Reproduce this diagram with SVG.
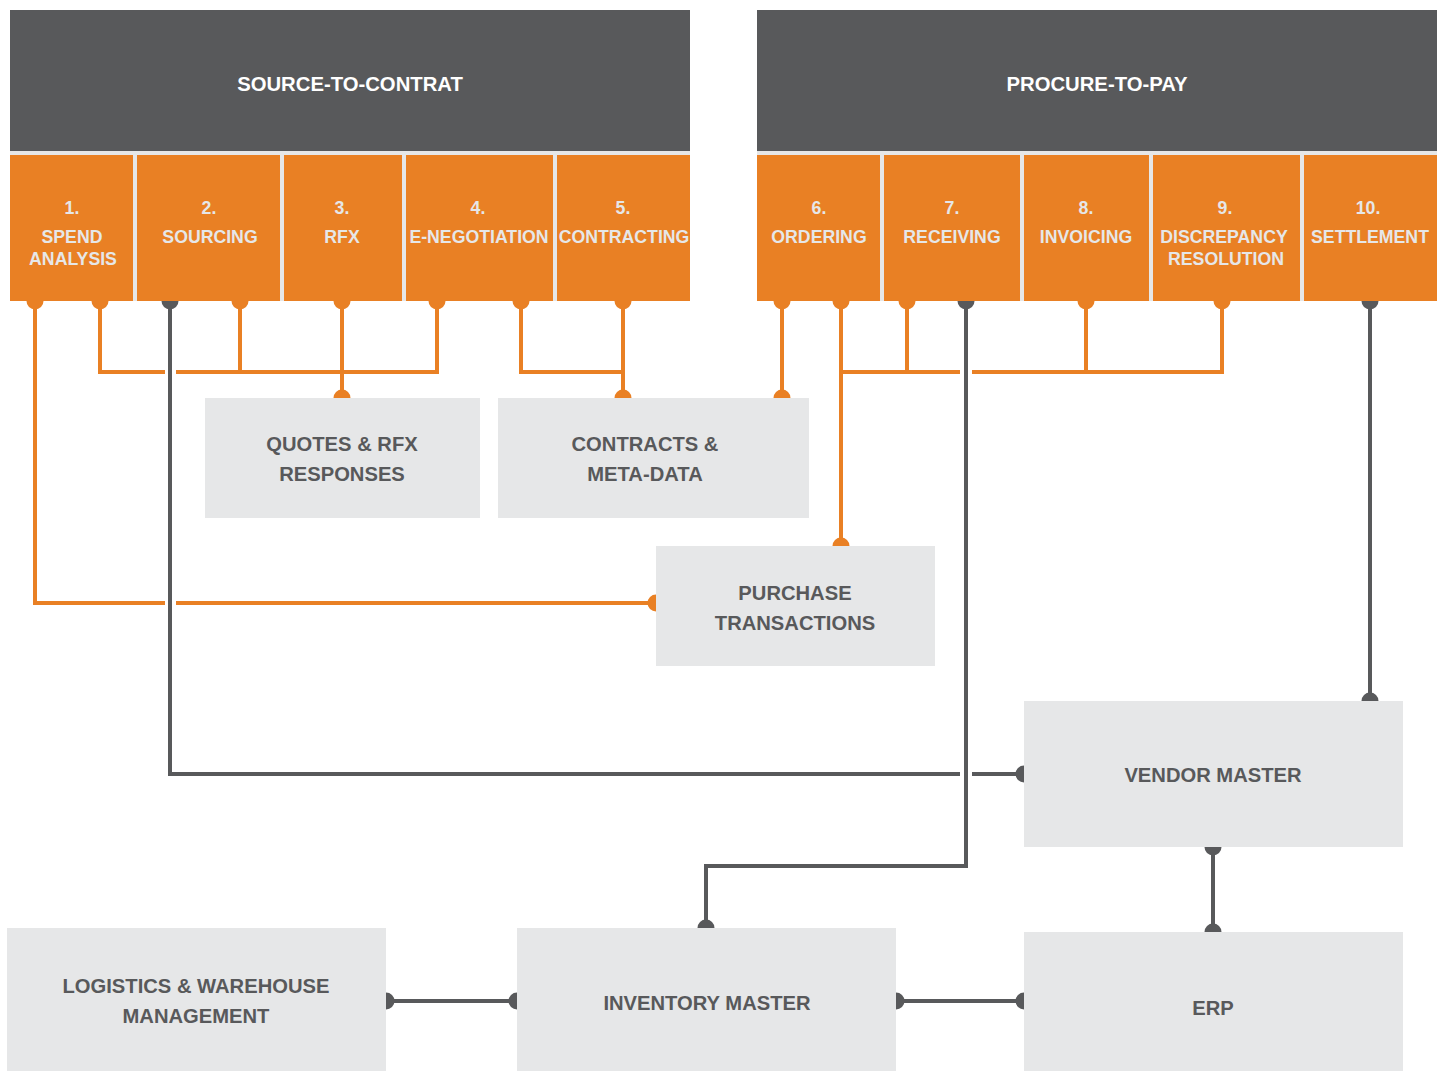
<svg xmlns="http://www.w3.org/2000/svg" width="1444" height="1071" viewBox="0 0 1444 1071">
<style>
.hdr{fill:#58595b}
.strip{fill:#e6e7e8}
.step{fill:#e98024}
.box{fill:#e6e7e8}
.ht{font-family:"Liberation Sans",Arial,sans-serif;font-weight:bold;font-size:20.3px;fill:#ffffff;text-anchor:middle}
.st{font-family:"Liberation Sans",Arial,sans-serif;font-weight:bold;font-size:17.7px;fill:#e6e7e8;text-anchor:middle}
.bt{font-family:"Liberation Sans",Arial,sans-serif;font-weight:bold;font-size:20.2px;fill:#58595b;text-anchor:middle}
.o{fill:none;stroke:#e98024;stroke-width:4}
.g{fill:none;stroke:#58595b;stroke-width:4}
.od{fill:#e98024}
.gd{fill:#58595b}
</style>
<rect width="1444" height="1071" fill="#ffffff"/>
<g id="connectors">
  <path class="o" d="M35,300 V603 H165 M176,603 H655"/>
  <path class="o" d="M100,300 V372 H165 M176,372 H437 V300 M240,300 V372 M342,300 V398"/>
  <path class="o" d="M521,300 V372 H623 M623,300 V398"/>
  <path class="o" d="M782,300 V398"/>
  <path class="o" d="M841,300 V546 M841,372 H960 M972,372 H1222 V300 M907,300 V372 M1086,300 V372"/>
  <g class="od">
    <circle cx="35" cy="301" r="8.5"/><circle cx="100" cy="301" r="8.5"/><circle cx="240" cy="301" r="8.5"/>
    <circle cx="342" cy="301" r="8.5"/><circle cx="437" cy="301" r="8.5"/><circle cx="521" cy="301" r="8.5"/>
    <circle cx="623" cy="301" r="8.5"/><circle cx="782" cy="301" r="8.5"/><circle cx="841" cy="301" r="8.5"/>
    <circle cx="907" cy="301" r="8.5"/><circle cx="1086" cy="301" r="8.5"/><circle cx="1222" cy="301" r="8.5"/>
    <circle cx="342" cy="398" r="8.5"/><circle cx="623" cy="398" r="8.5"/><circle cx="782" cy="398" r="8.5"/>
    <circle cx="841" cy="546" r="8.5"/><circle cx="656" cy="603" r="8.5"/>
  </g>
  <path class="g" d="M170,300 V774 H960 M972,774 H1024"/>
  <path class="g" d="M966,300 V866 H706 V928"/>
  <path class="g" d="M1370,300 V701"/>
  <path class="g" d="M1213,847 V932"/>
  <path class="g" d="M386,1001 H517 M896,1001 H1024"/>
  <g class="gd">
    <circle cx="170" cy="301" r="8.5"/><circle cx="966" cy="301" r="8.5"/><circle cx="1370" cy="301" r="8.5"/>
    <circle cx="1024" cy="774" r="8.5"/><circle cx="706" cy="928" r="8.5"/><circle cx="1370" cy="701" r="8.5"/>
    <circle cx="1213" cy="847" r="8.5"/><circle cx="1213" cy="932" r="8.5"/>
    <circle cx="386" cy="1001" r="8.5"/><circle cx="517" cy="1001" r="8.5"/>
    <circle cx="896" cy="1001" r="8.5"/><circle cx="1024" cy="1001" r="8.5"/>
  </g>
</g>
<g id="source-to-contract">
  <rect class="hdr" x="10" y="10" width="680" height="141"/>
  <rect class="strip" x="10" y="151" width="680" height="150"/>
  <text class="ht" x="350" y="91">SOURCE-TO-CONTRAT</text>
</g>
<g id="procure-to-pay">
  <rect class="hdr" x="757" y="10" width="680" height="141"/>
  <rect class="strip" x="757" y="151" width="680" height="150"/>
  <text class="ht" x="1097" y="91">PROCURE-TO-PAY</text>
</g>
<g id="step1"><rect class="step" x="10" y="155" width="123" height="146"/><text class="st" x="72" y="214">1.</text><text class="st" x="72" y="243">SPEND</text><text class="st" x="73" y="265">ANALYSIS</text></g>
<g id="step2"><rect class="step" x="137" y="155" width="143" height="146"/><text class="st" x="209" y="214">2.</text><text class="st" x="210" y="243">SOURCING</text></g>
<g id="step3"><rect class="step" x="284" y="155" width="118" height="146"/><text class="st" x="342" y="214">3.</text><text class="st" x="342" y="243">RFX</text></g>
<g id="step4"><rect class="step" x="406" y="155" width="147" height="146"/><text class="st" x="478" y="214">4.</text><text class="st" x="479" y="243">E-NEGOTIATION</text></g>
<g id="step5"><rect class="step" x="557" y="155" width="133" height="146"/><text class="st" x="623" y="214">5.</text><text class="st" x="624" y="243">CONTRACTING</text></g>
<g id="step6"><rect class="step" x="757" y="155" width="123" height="146"/><text class="st" x="819" y="214">6.</text><text class="st" x="819" y="243">ORDERING</text></g>
<g id="step7"><rect class="step" x="884" y="155" width="136" height="146"/><text class="st" x="952" y="214">7.</text><text class="st" x="952" y="243">RECEIVING</text></g>
<g id="step8"><rect class="step" x="1024" y="155" width="125" height="146"/><text class="st" x="1086" y="214">8.</text><text class="st" x="1086" y="243">INVOICING</text></g>
<g id="step9"><rect class="step" x="1153" y="155" width="147" height="146"/><text class="st" x="1225" y="214">9.</text><text class="st" x="1224" y="243">DISCREPANCY</text><text class="st" x="1226" y="265">RESOLUTION</text></g>
<g id="step10"><rect class="step" x="1304" y="155" width="133" height="146"/><text class="st" x="1368" y="214">10.</text><text class="st" x="1370" y="243">SETTLEMENT</text></g>
<g id="quotes"><rect class="box" x="205" y="398" width="275" height="120"/><text class="bt" x="342" y="451">QUOTES &amp; RFX</text><text class="bt" x="342" y="481">RESPONSES</text></g>
<g id="contracts"><rect class="box" x="498" y="398" width="311" height="120"/><text class="bt" x="645" y="451">CONTRACTS &amp;</text><text class="bt" x="645" y="481">META-DATA</text></g>
<g id="purchase"><rect class="box" x="656" y="546" width="279" height="120"/><text class="bt" x="795" y="600">PURCHASE</text><text class="bt" x="795" y="630">TRANSACTIONS</text></g>
<g id="vendor"><rect class="box" x="1024" y="701" width="379" height="146"/><text class="bt" x="1213" y="782">VENDOR MASTER</text></g>
<g id="erp"><rect class="box" x="1024" y="932" width="379" height="139"/><text class="bt" x="1213" y="1015">ERP</text></g>
<g id="inventory"><rect class="box" x="517" y="928" width="379" height="143"/><text class="bt" x="707" y="1010">INVENTORY MASTER</text></g>
<g id="logistics"><rect class="box" x="7" y="928" width="379" height="143"/><text class="bt" x="196" y="993">LOGISTICS &amp; WAREHOUSE</text><text class="bt" x="196" y="1023">MANAGEMENT</text></g>
</svg>
